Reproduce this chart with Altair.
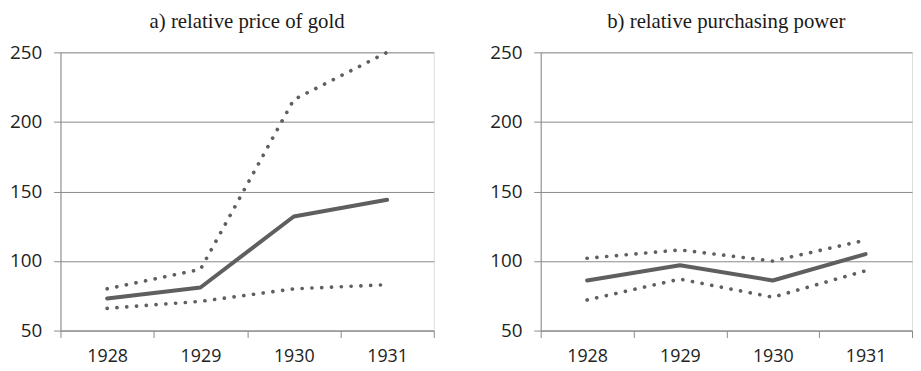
import altair as alt
import pandas as pd

years = ["1928", "1929", "1930", "1931"]

gold_mid = [73, 81, 132, 144]
gold_hi = [80, 94, 216, 250]
gold_lo = [66, 71, 80, 83]

pp_mid = [86, 97, 86, 105]
pp_hi = [102, 108, 100, 115]
pp_lo = [72, 87, 74, 93]

titles = ["a) relative price of gold", "b) relative purchasing power"]

LINE = "#5f5f5f"
GRID = "#8a8a8a"
FONT = "Open Sans"


def make_df(mid, hi, lo):
    rows = []
    for name, vals in (("mid", mid), ("hi", hi), ("lo", lo)):
        for y, v in zip(years, vals):
            rows.append({"year": y, "value": v, "series": name})
    return pd.DataFrame(rows)


def panel(df, title, width):
    x = alt.X(
        "year:O",
        sort=years,
        bandPosition=0.5,
        scale=alt.Scale(type="band", paddingInner=0, paddingOuter=0),
        axis=alt.Axis(
            title=None, labelAngle=0, tickBand="extent", grid=False,
            tickSize=7, tickColor=GRID, domainColor=GRID,
            labelFont=FONT, labelFontSize=18, labelColor="#222222",
            labelPadding=10,
        ),
    )
    y = alt.Y(
        "value:Q",
        scale=alt.Scale(domain=[50, 250], nice=False, zero=False),
        axis=alt.Axis(
            title=None, values=[50, 100, 150, 200, 250], grid=True,
            gridColor=GRID, gridWidth=1, tickSize=7, tickColor=GRID,
            domainColor=GRID, labelFont=FONT, labelFontSize=19,
            labelColor="#222222", labelPadding=12,
        ),
    )
    base = alt.Chart(df)
    solid = base.transform_filter(alt.datum.series == "mid").mark_line(
        color=LINE, strokeWidth=4, strokeCap="round", strokeJoin="round"
    ).encode(x=x, y=y)
    dotted = base.transform_filter(alt.datum.series != "mid").mark_line(
        color=LINE, strokeWidth=3.7, strokeCap="round", strokeDash=[0.1, 9.8]
    ).encode(x=x, y=y, detail="series:N")
    return alt.layer(dotted, solid).properties(
        width=width,
        height=281,
        title=alt.TitleParams(
            title, font="Liberation Serif", fontSize=21, fontWeight="normal",
            color="#1a1a1a", anchor="middle", offset=12,
        ),
    )


chart = alt.hconcat(
    panel(make_df(gold_mid, gold_hi, gold_lo), titles[0], 377),
    panel(make_df(pp_mid, pp_hi, pp_lo), titles[1], 375),
    spacing=54,
).properties(
    padding={"left": 0, "top": 0, "right": 0, "bottom": 0},
).configure_view(stroke=GRID, strokeWidth=1).configure(background="white")

chart.save("out.html", embed_options={"renderer": "svg", "actions": False})
